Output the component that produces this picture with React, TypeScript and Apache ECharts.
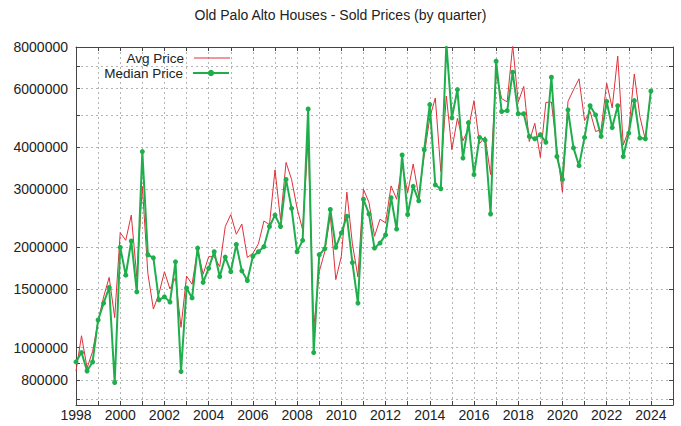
import React, { useEffect, useRef } from 'react';
import * as echarts from 'echarts';

const titleText = 'Old Palo Alto Houses - Sold Prices (by quarter)';
const startYear = 1998;
const quarterStep = 0.25;

const avgPrice = [
  850000, 1085000, 868000, 973000, 1200000, 1420000, 1625000, 1230000, 2215000, 2100000,
  2500000, 1630000, 3050000, 1670000, 1305000, 1450000, 1690000, 1500000, 1620000, 1150000,
  1640000, 1550000, 1970000, 1660000, 1875000, 1875000, 1750000, 2310000, 2510000, 2190000,
  2350000, 1865000, 1920000, 2050000, 2400000, 2340000, 3420000, 2420000, 3600000, 3200000,
  2620000, 2260000, 4250000, 1140000, 1690000, 1940000, 2500000, 1600000, 1880000, 2930000,
  2050000, 1630000, 2990000, 2730000, 2160000, 2430000, 2370000, 3060000, 2790000, 3540000,
  2920000, 3560000, 2850000, 3790000, 4900000, 5620000, 3380000, 5700000, 3930000, 4880000,
  4180000, 4550000, 5520000, 4100000, 4300000, 3310000, 6650000, 5600000, 5470000, 8100000,
  5470000, 6090000, 4160000, 4720000, 3730000, 5450000, 5470000, 3950000, 2930000, 5490000,
  5950000, 6420000, 4810000, 5120000, 4460000, 4510000, 6230000, 5250000, 7510000, 4060000,
  4510000, 6640000, 4950000, 4210000, 5900000,
];

const medianPrice = [
  906000, 966000, 850000, 905000, 1210000, 1360000, 1515000, 785000, 2000000, 1650000,
  2090000, 1470000, 3880000, 1900000, 1860000, 1390000, 1420000, 1370000, 1810000, 847000,
  1510000, 1410000, 1990000, 1570000, 1730000, 1940000, 1635000, 1870000, 1690000, 2040000,
  1700000, 1590000, 1880000, 1940000, 2010000, 2310000, 2500000, 2310000, 3200000, 2620000,
  1940000, 2100000, 5210000, 966000, 1900000, 1980000, 2600000, 2000000, 2210000, 2480000,
  1800000, 1360000, 2790000, 2520000, 1990000, 2060000, 2180000, 2820000, 2270000, 3790000,
  2510000, 3050000, 2760000, 3930000, 5370000, 3080000, 3000000, 8200000, 4900000, 5960000,
  3710000, 4740000, 3310000, 4280000, 4200000, 2520000, 7250000, 5120000, 5150000, 6720000,
  5040000, 5040000, 4310000, 4240000, 4360000, 4140000, 6490000, 3750000, 3200000, 5180000,
  3980000, 3520000, 4280000, 5330000, 5000000, 4310000, 5490000, 4580000, 5330000, 3750000,
  4410000, 5520000, 4260000, 4240000, 5900000,
];

const yGridValues = [700000, 800000, 900000, 1000000, 1500000, 2000000, 3000000, 4000000, 5000000, 6000000, 7000000, 8000000];
const yLabelValues = [800000, 1000000, 1500000, 2000000, 3000000, 4000000, 6000000, 8000000];
const yMin = 672000;
const yMax = 8000000;
const xMin = 1998;
const xMax = 2025;

const FONT = '"Liberation Sans", Arial, sans-serif';
const TEXT = '#222';
const BORDER = '#444';
const GRID = '#b4b4b4';
const RED = '#e0303a';
const GREEN = '#1fae4c';

export default function App() {
  const ref = useRef<HTMLDivElement>(null);

  useEffect(() => {
    if (!ref.current) return;
    const chart = echarts.init(ref.current, null, { renderer: 'svg' });
    const lg = (v: number) => Math.log10(v);
    const years = medianPrice.map((_, i) => startYear + i * quarterStep);
    const avgData = avgPrice.map((v, i) => [years[i], lg(v)]);
    const medData = medianPrice.map((v, i) => [years[i], lg(v)]);
    const gridTicks = yGridValues.map(lg);
    const labelTicks = yLabelValues.map(lg);

    const xBase = {
      type: 'value',
      min: xMin,
      max: xMax,
      interval: 1,
      axisLine: { show: true, onZero: false, lineStyle: { color: BORDER, width: 1 } },
      axisTick: { show: true, inside: true, length: 4, lineStyle: { color: BORDER } },
    };
    const yBase = {
      type: 'value',
      min: lg(yMin),
      max: lg(yMax),
      axisLine: { show: true, onZero: false, lineStyle: { color: BORDER, width: 1 } },
      axisTick: { show: true, inside: true, length: 4, customValues: gridTicks, lineStyle: { color: BORDER } },
    };

    const legendText = { fontFamily: FONT, fontSize: 13.5, lineHeight: 13, color: TEXT, padding: [0, 5, 0, 0] };

    chart.setOption({
      animation: false,
      backgroundColor: '#ffffff',
      title: {
        text: titleText,
        left: 'center',
        top: 8,
        padding: 0,
        textStyle: { fontFamily: FONT, fontSize: 14, fontWeight: 'normal', color: TEXT },
      },
      legend: [
        {
          data: [{ name: 'Avg Price', icon: 'path://M0,0 L36,0 L36,1 L0,1 Z' }],
          right: 451,
          top: 51,
          padding: 0,
          align: 'right',
          itemWidth: 36,
          itemHeight: 8,
          textStyle: legendText,
        },
        {
          data: ['Median Price'],
          right: 451,
          top: 66,
          padding: 0,
          align: 'right',
          itemWidth: 36,
          itemHeight: 8,
          textStyle: legendText,
        },
      ],
      grid: { left: 76, right: 8, top: 47, bottom: 21, containLabel: false, outerBoundsMode: 'none' },
      xAxis: [
        {
          ...xBase,
          position: 'bottom',
          axisLabel: {
            show: true,
            margin: 3,
            fontFamily: FONT,
            fontSize: 14,
            color: TEXT,
            formatter: (v: number) => (Math.round(v) % 2 === 0 && v < xMax ? String(Math.round(v)) : ''),
          },
          splitLine: { show: true, lineStyle: { color: GRID, type: [2, 3], width: 1 } },
        },
        {
          ...xBase,
          position: 'top',
          axisLabel: { show: false },
          splitLine: { show: false },
        },
      ],
      yAxis: [
        {
          ...yBase,
          position: 'left',
          axisLabel: {
            show: true,
            customValues: labelTicks,
            margin: 8,
            fontFamily: FONT,
            fontSize: 14,
            color: TEXT,
            formatter: (v: number) => String(Math.round(Math.pow(10, v) / 1000) * 1000),
          },
          splitLine: { show: true, lineStyle: { color: GRID, type: [2, 3], width: 1 } },
        },
        {
          ...yBase,
          position: 'right',
          axisLabel: { show: false },
          splitLine: { show: false },
        },
      ],
      series: [
        {
          name: 'Avg Price',
          type: 'line',
          xAxisIndex: 0,
          yAxisIndex: 0,
          data: avgData,
          showSymbol: false,
          symbol: 'none',
          clip: true,
          lineStyle: { color: RED, width: 1 },
          itemStyle: { color: RED },
          z: 2,
        },
        {
          name: 'Median Price',
          type: 'line',
          xAxisIndex: 0,
          yAxisIndex: 0,
          data: medData,
          symbol: 'circle',
          symbolSize: 5,
          clip: true,
          lineStyle: { color: GREEN, width: 2 },
          itemStyle: { color: GREEN },
          z: 3,
        },
      ],
    });

    return () => chart.dispose();
  }, []);

  return (
    <div
      ref={ref}
      style={{ position: 'absolute', left: 0, top: 0, width: 681, height: 426, background: '#fff' }}
    />
  );
}
